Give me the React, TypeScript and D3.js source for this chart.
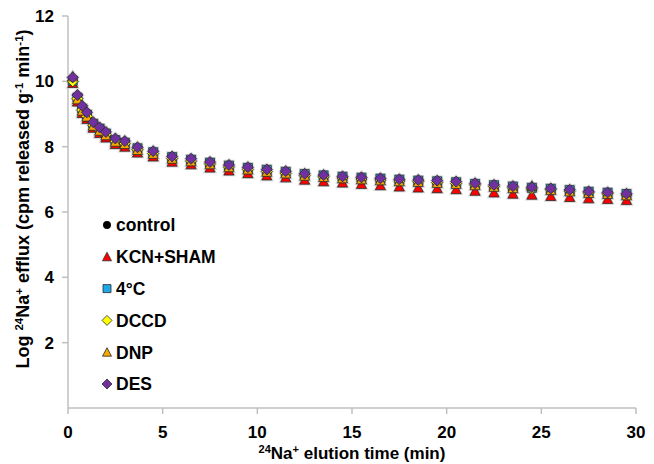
// Scatter chart: log 24Na+ efflux vs elution time for six treatments.
import * as d3 from "d3";

const times = [0.25, 0.5, 0.75, 1, 1.33, 1.67, 2, 2.5, 3, 3.67, 4.5, 5.5, 6.5, 7.5, 8.5, 9.5, 10.5, 11.5, 12.5, 13.5, 14.5, 15.5, 16.5, 17.5, 18.5, 19.5, 20.5, 21.5, 22.5, 23.5, 24.5, 25.5, 26.5, 27.5, 28.5, 29.5];

const control = [10.05, 9.52, 9.18, 8.99, 8.71, 8.55, 8.41, 8.21, 8.13, 7.95, 7.83, 7.67, 7.59, 7.5, 7.41, 7.33, 7.27, 7.21, 7.14, 7.1, 7.06, 7.02, 6.99, 6.96, 6.94, 6.92, 6.89, 6.84, 6.8, 6.76, 6.73, 6.69, 6.65, 6.6, 6.57, 6.53];
const kcnSham = [9.95, 9.38, 9.03, 8.85, 8.58, 8.42, 8.28, 8.08, 8.0, 7.82, 7.7, 7.54, 7.46, 7.36, 7.27, 7.19, 7.12, 7.06, 6.99, 6.94, 6.9, 6.86, 6.82, 6.78, 6.75, 6.73, 6.7, 6.65, 6.6, 6.56, 6.53, 6.49, 6.46, 6.42, 6.4, 6.37];
const cold = [10.02, 9.5, 9.16, 8.98, 8.7, 8.55, 8.4, 8.2, 8.12, 7.95, 7.83, 7.68, 7.6, 7.51, 7.42, 7.35, 7.29, 7.23, 7.16, 7.12, 7.08, 7.05, 7.02, 6.99, 6.96, 6.94, 6.91, 6.86, 6.82, 6.78, 6.74, 6.71, 6.67, 6.62, 6.59, 6.55];
const dccd = [10.0, 9.47, 9.12, 8.93, 8.66, 8.51, 8.37, 8.17, 8.09, 7.91, 7.79, 7.64, 7.56, 7.47, 7.38, 7.31, 7.24, 7.19, 7.12, 7.08, 7.04, 7.01, 6.98, 6.95, 6.93, 6.9, 6.87, 6.83, 6.78, 6.74, 6.71, 6.68, 6.64, 6.59, 6.56, 6.52];
const dnp = [10.15, 9.45, 9.1, 8.92, 8.64, 8.49, 8.35, 8.15, 8.08, 7.9, 7.78, 7.63, 7.55, 7.46, 7.37, 7.3, 7.23, 7.18, 7.11, 7.07, 7.03, 7.0, 6.97, 6.94, 6.92, 6.89, 6.86, 6.82, 6.77, 6.73, 6.8, 6.67, 6.63, 6.58, 6.55, 6.51];
const des = [10.12, 9.58, 9.25, 9.05, 8.75, 8.59, 8.45, 8.25, 8.17, 7.98, 7.86, 7.7, 7.63, 7.53, 7.44, 7.37, 7.3, 7.25, 7.17, 7.13, 7.09, 7.06, 7.03, 7.0, 6.98, 6.96, 6.93, 6.88, 6.83, 6.79, 6.76, 6.72, 6.68, 6.63, 6.6, 6.56];

const xTicks = [0, 5, 10, 15, 20, 25, 30];
const yTicks = [2, 4, 6, 8, 10, 12];

type Shape = "circle" | "triangle" | "square" | "diamond";

const series: { name: string; values: number[]; shape: Shape; fill: string }[] = [
  { name: "control", values: control, shape: "circle", fill: "#000000" },
  { name: "KCN+SHAM", values: kcnSham, shape: "triangle", fill: "#ff0000" },
  { name: "4°C", values: cold, shape: "square", fill: "#1fa8e6" },
  { name: "DCCD", values: dccd, shape: "diamond", fill: "#ffff00" },
  { name: "DNP", values: dnp, shape: "triangle", fill: "#f5a800" },
  { name: "DES", values: des, shape: "diamond", fill: "#7030a0" },
];

const width = 654;
const height = 464;
const margin = { top: 16, right: 18, bottom: 56, left: 68 };
const font = "'Liberation Sans', Arial, sans-serif";
const axisColor = "#bfbfbf";

// marker outline for each shape, centred on 0,0
function markerPath(shape: Shape, s: number): string {
  const h = s / 2;
  if (shape === "circle") return d3.symbol(d3.symbolCircle, Math.PI * h * h * 0.85)()!;
  if (shape === "square") return `M${-h},${-h}H${h}V${h}H${-h}Z`;
  if (shape === "diamond") return `M0,${-h - 1}L${h + 1},0L0,${h + 1}L${-h - 1},0Z`;
  return `M0,${-h - 0.5}L${h + 0.5},${h}L${-h - 0.5},${h}Z`;
}

function Marker({ shape, fill, x, y, size = 9 }: { shape: Shape; fill: string; x: number; y: number; size?: number }) {
  return (
    <path
      d={markerPath(shape, size)}
      transform={`translate(${x},${y})`}
      fill={fill}
      stroke={shape === "circle" ? "#000" : "#2a2a2a"}
      strokeWidth={0.8}
    />
  );
}

export default function App() {
  const x = d3.scaleLinear().domain([0, 30]).range([margin.left, width - margin.right]);
  const y = d3.scaleLinear().domain([0, 12]).range([height - margin.bottom, margin.top]);
  const y0 = y(0);

  return (
    <svg width={width} height={height} style={{ display: "block", position: "absolute", left: 0, top: 0, background: "#fff" }}>
      <rect width={width} height={height} fill="#fff" />

      {/* axes */}
      <line x1={x(0)} x2={x(0)} y1={y(12)} y2={y0} stroke={axisColor} strokeWidth={1.5} />
      <line x1={x(0)} x2={x(30)} y1={y0} y2={y0} stroke={axisColor} strokeWidth={1.5} />
      {yTicks.map((t) => (
        <g key={"y" + t}>
          <line x1={x(0) - 6} x2={x(0)} y1={y(t)} y2={y(t)} stroke={axisColor} strokeWidth={1.5} />
          <text x={x(0) - 14} y={y(t)} dy="0.35em" textAnchor="end" fontFamily={font} fontWeight="bold" fontSize={17}>
            {t}
          </text>
        </g>
      ))}
      {xTicks.map((t) => (
        <g key={"x" + t}>
          <line x1={x(t)} x2={x(t)} y1={y0} y2={y0 + 6} stroke={axisColor} strokeWidth={1.5} />
          <text x={x(t)} y={y0 + 30} textAnchor="middle" fontFamily={font} fontWeight="bold" fontSize={17}>
            {t}
          </text>
        </g>
      ))}

      {/* axis titles */}
      <text x={(x(0) + x(30)) / 2} y={y0 + 51} textAnchor="middle" fontFamily={font} fontWeight="bold" fontSize={17}>
        <tspan fontSize={11} dy={-6}>24</tspan>
        <tspan dy={6}>Na</tspan>
        <tspan fontSize={11} dy={-6}>+</tspan>
        <tspan dy={6}> elution time (min)</tspan>
      </text>
      <text transform={`translate(29,199) rotate(-90)`} textAnchor="middle" fontFamily={font} fontWeight="bold" fontSize={18}>
        <tspan>Log </tspan>
        <tspan fontSize={11.5} dy={-6}>24</tspan>
        <tspan dy={6}>Na</tspan>
        <tspan fontSize={11.5} dy={-6}>+</tspan>
        <tspan dy={6}> efflux (cpm released g</tspan>
        <tspan fontSize={11.5} dy={-6}>-1</tspan>
        <tspan dy={6}> min</tspan>
        <tspan fontSize={11.5} dy={-6}>-1</tspan>
        <tspan dy={6}>)</tspan>
      </text>

      {/* soft halo behind the points */}
      {series.map((s) =>
        s.values.map((v, i) => (
          <path
            key={s.name + "h" + i}
            d={markerPath(s.shape, 9)}
            transform={`translate(${x(times[i])},${y(v)})`}
            fill="#d4d4d4"
            stroke="#d4d4d4"
            strokeWidth={2.5}
          />
        ))
      )}
      {series.map((s) => (
        <g key={s.name}>
          {s.values.map((v, i) => (
            <Marker key={i} shape={s.shape} fill={s.fill} x={x(times[i])} y={y(v)} />
          ))}
        </g>
      ))}

      {/* legend */}
      {series.map((s, i) => {
        const ly = 225 + i * 31.8;
        return (
          <g key={"l" + s.name}>
            <Marker shape={s.shape} fill={s.fill} x={107} y={ly} size={8} />
            <text x={116} y={ly} dy="0.36em" fontFamily={font} fontWeight="bold" fontSize={17.5}>
              {s.name}
            </text>
          </g>
        );
      })}
    </svg>
  );
}
